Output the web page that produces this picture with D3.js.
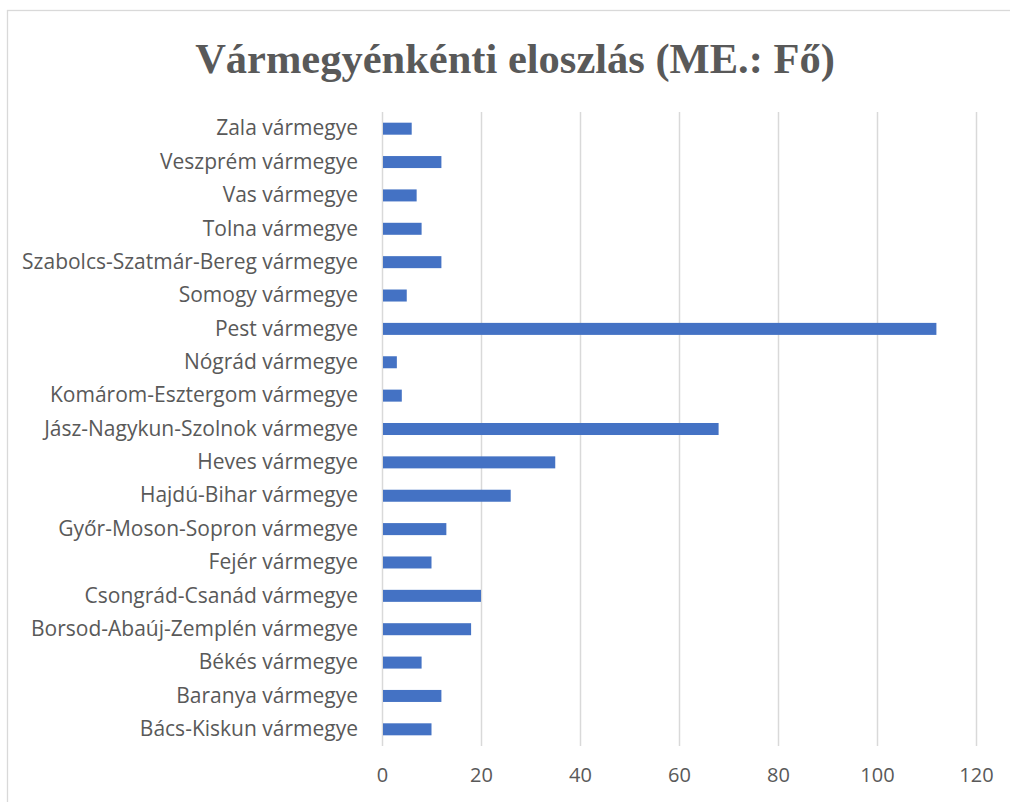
<!DOCTYPE html>
<html>
<head>
<meta charset="utf-8">
<script src="https://cdn.jsdelivr.net/npm/d3@7"></script>
<style>
  body { margin: 0; background: #fff; }
  svg { display: block; }
</style>
</head>
<body>
<div id="chart"></div>
<script>
// counties from top to bottom, as they appear in the chart
const counties = [
  "Zala vármegye", "Veszprém vármegye", "Vas vármegye", "Tolna vármegye",
  "Szabolcs-Szatmár-Bereg vármegye", "Somogy vármegye", "Pest vármegye",
  "Nógrád vármegye", "Komárom-Esztergom vármegye", "Jász-Nagykun-Szolnok vármegye",
  "Heves vármegye", "Hajdú-Bihar vármegye", "Győr-Moson-Sopron vármegye",
  "Fejér vármegye", "Csongrád-Csanád vármegye", "Borsod-Abaúj-Zemplén vármegye",
  "Békés vármegye", "Baranya vármegye", "Bács-Kiskun vármegye"
];
const counts = [6, 12, 7, 8, 12, 5, 112, 3, 4, 68, 35, 26, 13, 10, 20, 18, 8, 12, 10];
const xTicks = [0, 20, 40, 60, 80, 100, 120];
const title = "Vármegyénkénti eloszlás (ME.: Fő)";

const W = 1010, H = 802;
const margin = { left: 382, right: 34, top: 112, bottom: 56 };
const width = W - margin.left - margin.right,
      height = H - margin.top - margin.bottom;
const labelFont = "'Open Sans', 'Noto Sans', sans-serif";

const data = counties.map((c, i) => ({ name: c, value: counts[i] }));

const svg = d3.select("#chart").append("svg")
  .attr("width", W)
  .attr("height", H);

// chart frame
svg.append("rect")
  .attr("x", 7.5).attr("y", 10.5)
  .attr("width", 1010).attr("height", 802)
  .attr("fill", "#fff")
  .attr("stroke", "#d9d9d9")
  .attr("stroke-width", 1.3);

svg.append("text")
  .attr("x", 515)
  .attr("y", 73)
  .attr("text-anchor", "middle")
  .style("font-family", "'Liberation Serif', 'Times New Roman', serif")
  .style("font-weight", "bold")
  .style("font-size", "42.5px")
  .style("fill", "#595959")
  .text(title);

const g = svg.append("g")
  .attr("transform", `translate(${margin.left},${margin.top})`);

const xScale = d3.scaleLinear()
  .domain([0, 120])
  .range([0, 594]);

const yScale = d3.scaleBand()
  .domain(counties)
  .range([0, height])
  .paddingInner(0.64)
  .paddingOuter(0.32);

// grid lines
const xAxis = d3.axisBottom(xScale)
  .tickValues(xTicks)
  .tickSize(-height)
  .tickPadding(22);

const xAxisG = g.append("g")
  .attr("class", "xAxisG")
  .attr("transform", `translate(0,${height})`)
  .call(xAxis);
xAxisG.select(".domain").remove();
xAxisG.selectAll(".tick line")
  .attr("stroke", "#d9d9d9")
  .attr("stroke-width", 1.5);
xAxisG.selectAll(".tick text")
  .style("font-family", labelFont)
  .style("font-size", "20px")
  .style("fill", "#595959");

// bars
g.append("g").attr("class", "bars")
  .selectAll("rect")
  .data(data)
  .enter().append("rect")
  .attr("x", xScale(0) + 1)
  .attr("y", d => yScale(d.name))
  .attr("width", d => xScale(d.value) - xScale(0) - 1)
  .attr("height", yScale.bandwidth())
  .attr("fill", "#4472c4");

// category labels
const yAxis = d3.axisLeft(yScale)
  .tickSize(0)
  .tickPadding(24);
const yAxisG = g.append("g")
  .attr("class", "yAxisG")
  .call(yAxis);
yAxisG.select(".domain").remove();
yAxisG.selectAll(".tick text")
  .style("font-family", labelFont)
  .style("font-size", "21px")
  .style("fill", "#595959");
</script>
</body>
</html>
